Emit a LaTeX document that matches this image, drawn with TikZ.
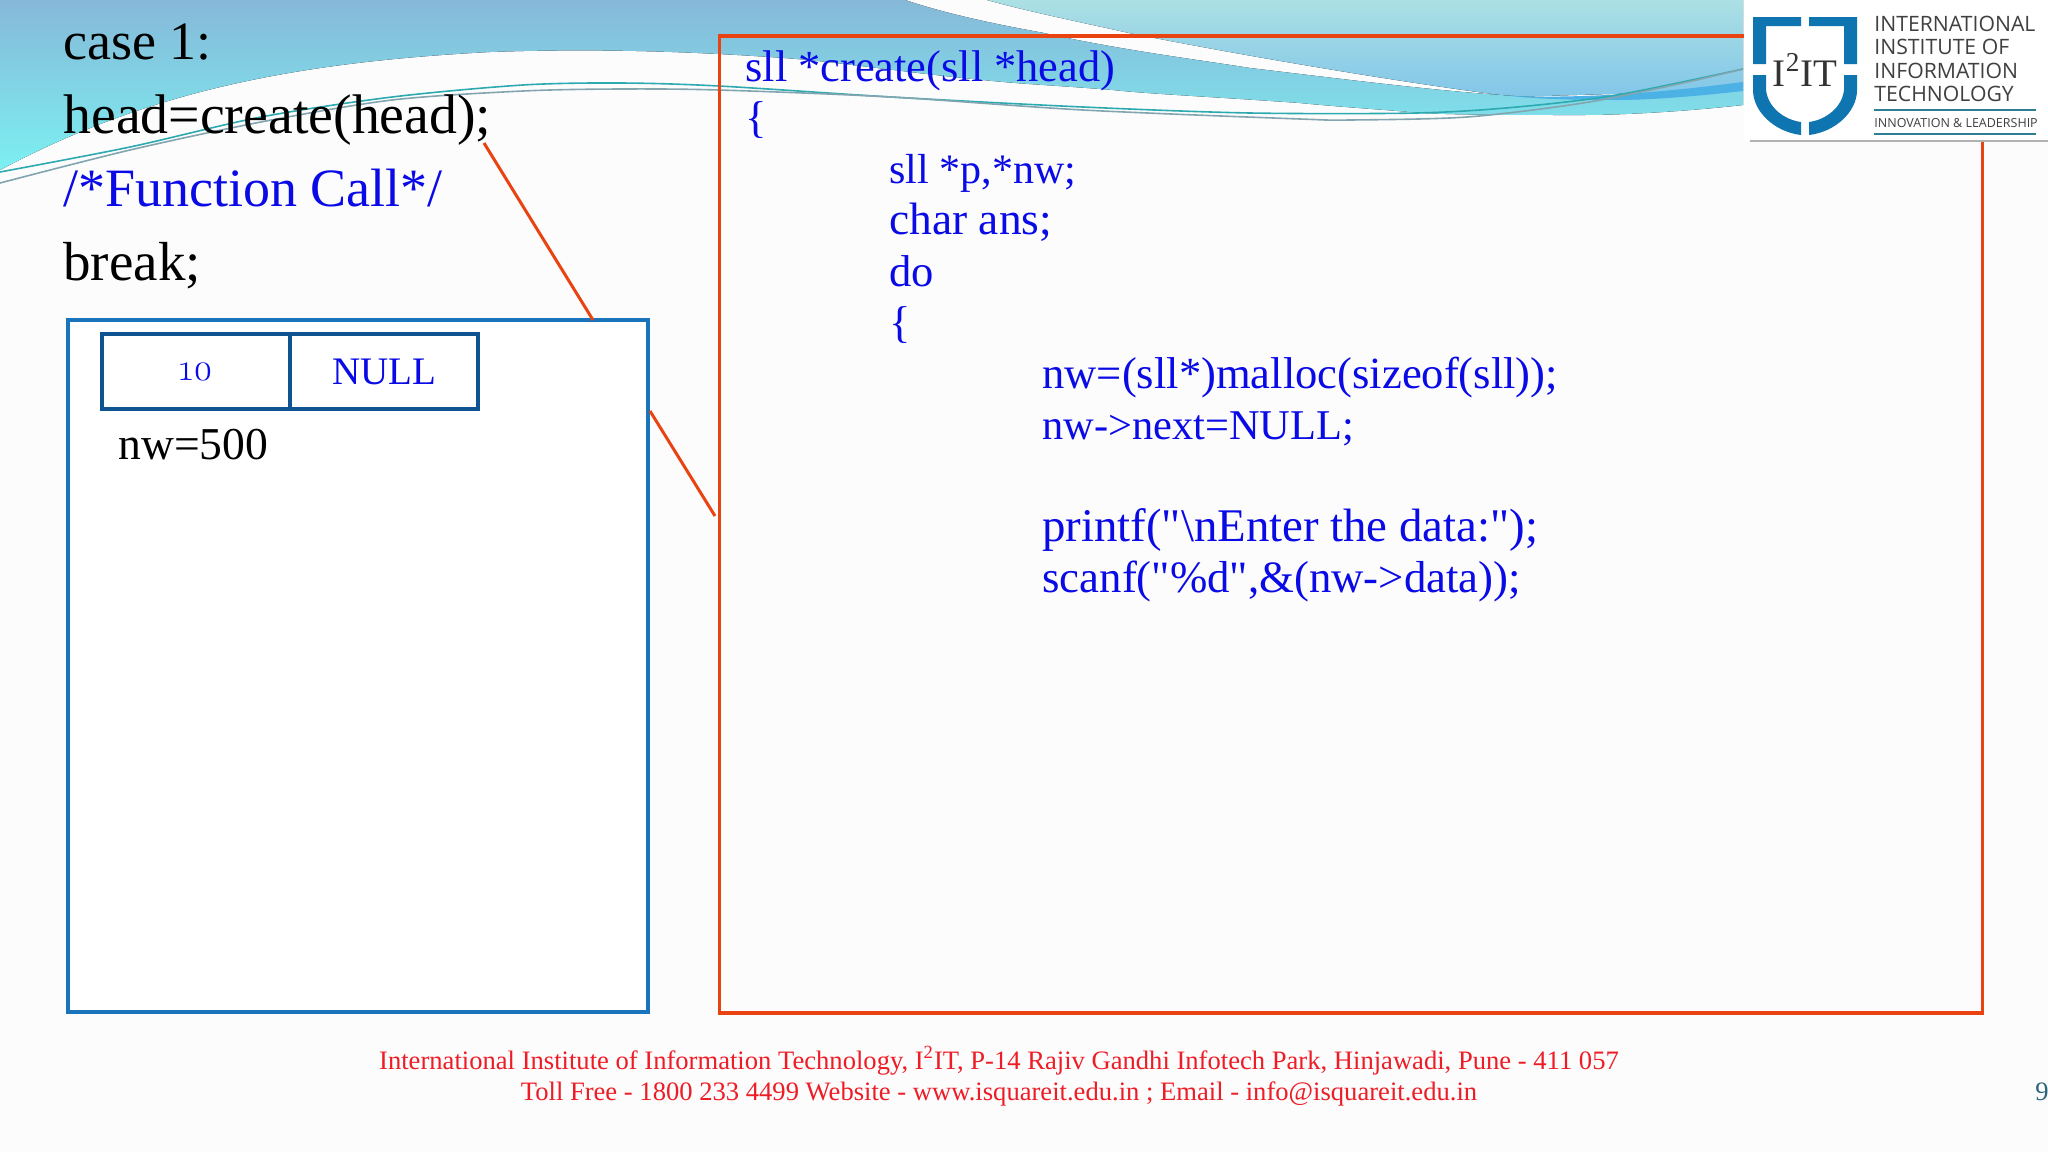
\documentclass[tikz,border=0pt]{standalone}
\usepackage{fontspec}
\setmainfont{Liberation Serif}
\newfontfamily\codefont{Liberation Serif}
\newfontfamily\logosans{Open Sans}
\newfontfamily\oldnums[Numbers=OldStyle]{Latin Modern Roman}
\usepackage{tikz}

\definecolor{pagebg}{HTML}{FCFCFD}
\definecolor{redline}{HTML}{EA4312}
\definecolor{boxblue}{HTML}{1A74BC}
\definecolor{cellblue}{HTML}{0F5490}
\definecolor{codeblue}{HTML}{0A0AE6}
\definecolor{footred}{HTML}{EE1C25}
\definecolor{shieldblue}{HTML}{0F75B0}
\definecolor{logorule}{HTML}{2F7F93}
\definecolor{pagenumcol}{HTML}{2A6478}
\definecolor{tealtop}{HTML}{ABE0E4}
\definecolor{tealbot}{HTML}{82C6E8}
\definecolor{wavetop}{HTML}{86B8D8}
\definecolor{wavebot}{HTML}{7CF0F2}
\definecolor{stripe}{HTML}{4CB2E6}
\definecolor{linea}{HTML}{2DAAAF}
\definecolor{lineb}{HTML}{82A5AF}

\tikzset{
  maintext/.style={anchor=base west, inner sep=0pt, font=\fontsize{27}{27}\selectfont},
  codetext/.style={anchor=base west, inner sep=0pt, text=codeblue, font=\codefont\fontsize{22.3}{22.3}\selectfont},
  foottext/.style={anchor=base, inner sep=0pt, text=footred, font=\fontsize{13.3}{13.3}\selectfont},
  logotext/.style={anchor=base west, inner sep=0pt, text=black!75, font=\logosans\fontsize{10.6}{10.6}\selectfont},
  cell/.style={draw=cellblue, line width=2.2pt, minimum width=94pt, minimum height=37.5pt, inner sep=0pt, text=codeblue},
  callout/.style={draw=redline, line width=1.5pt}
}

\begin{document}
\begin{tikzpicture}[x=0.5pt,y=-0.5pt]
  \useasboundingbox (0,0) rectangle (2048,1152);
  \fill[pagebg] (0,0) rectangle (2048,1152);

  % waves
  \fill[top color=tealtop, bottom color=tealbot]
    (987,0) -- (1743,0) -- (1743,90) -- (1510,97) -- (1500,95)
    .. controls (1400,82) and (1250,57) .. (1129,33)
    .. controls (1080,22) and (1030,12) .. (987,0) -- cycle;
  \fill[top color=wavetop, bottom color=wavebot]
    (0,0) -- (905,0)
    .. controls (950,15) and (1000,25) .. (1044,33)
    .. controls (1120,50) and (1200,60) .. (1250,68)
    .. controls (1350,80) and (1430,90) .. (1500,95)
    .. controls (1540,98) and (1570,98) .. (1600,98)
    -- (1743,90) -- (1743,105)
    .. controls (1680,112) and (1620,115) .. (1583,115)
    .. controls (1500,115) and (1440,115) .. (1410,112)
    .. controls (1360,108) and (1330,106) .. (1300,103)
    .. controls (1200,96) and (1150,94) .. (1113,90)
    .. controls (1050,85) and (1020,84) .. (983,80)
    .. controls (900,72) and (840,62) .. (784,58)
    .. controls (700,52) and (600,48) .. (490,52)
    .. controls (300,62) and (150,90) .. (0,170) -- cycle;
  \fill[stripe]
    (1510,96) .. controls (1600,99) and (1680,90) .. (1743,82)
    -- (1743,91) .. controls (1700,96) and (1650,100) .. (1617,100)
    .. controls (1570,100) and (1540,99) .. (1510,96) -- cycle;
  \draw[linea, line width=0.8pt] plot[smooth] coordinates {
    (0,172) (130,147) (261,117) (392,97) (523,85) (620,83) (719,86) (891,97)
    (1083,107) (1250,113) (1417,113) (1517,107) (1617,95) (1743,69)};
  \draw[lineb, line width=0.8pt] plot[smooth] coordinates {
    (0,183) (130,150) (261,122) (392,100) (523,91) (620,89) (719,90) (891,97)
    (1083,110) (1300,119) (1350,120) (1467,117) (1583,103) (1683,83) (1743,69)};

  % boxes
  \node[draw=boxblue, fill=white, line width=2pt, minimum width=290pt, minimum height=346pt, inner sep=0pt] (membox) at (358,666) {};
  \node[draw=redline, line width=1.8pt, minimum width=631.5pt, minimum height=488.5pt, inner sep=0pt] (funcbox) at (1351,524.5) {};

  \coordinate (callA) at (484,143);
  \coordinate (callB) at (593,320);
  \coordinate (callC) at (650,411);
  \coordinate (callD) at (715,516);
  \path[callout] (callA) -- (callB);
  \path[callout] (callC) -- (callD);

  % memory cells
  \node[cell] (valcell) at (196,371.5) {\raisebox{-1pt}{\oldnums\fontsize{19}{19}\selectfont 10}};
  \node[cell] (nextcell) at (384,371.5) {\raisebox{-1pt}{\fontsize{19.5}{19.5}\selectfont NULL}};
  \node[anchor=base west, inner sep=0pt, font=\fontsize{22.8}{22.8}\selectfont] (nwlabel) at (118,459) {nw=500};

  % left text
  \node[maintext] (caseline) at (63,59) {case 1:};
  \node[maintext, font=\fontsize{27.9}{27.9}\selectfont] (callline) at (63,133) {head=create(head);};
  \node[maintext, text=codeblue] (commentline) at (63,206) {/*Function Call*/};
  \node[maintext, font=\fontsize{27.5}{27.5}\selectfont] (breakline) at (63,280) {break;};

  % function text
  \node[codetext, font=\codefont\fontsize{22.2}{22.2}\selectfont] (codea) at (745,81) {sll *create(sll *head)};
  \node[codetext] (codeb) at (745,132) {\{};
  \node[codetext, font=\codefont\fontsize{21}{21}\selectfont] (codec) at (889,183) {sll *p,*nw;};
  \node[codetext, font=\codefont\fontsize{22.7}{22.7}\selectfont] (coded) at (889,234) {char ans;};
  \node[codetext] (codee) at (889,286) {do};
  \node[codetext] (codef) at (889,337) {\{};
  \node[codetext] (codeg) at (1042,388) {nw=(sll*)malloc(sizeof(sll));};
  \node[codetext, font=\codefont\fontsize{21.2}{21.2}\selectfont] (codeh) at (1042,439) {nw->next=NULL;};
  \node[codetext, font=\codefont\fontsize{23.4}{23.4}\selectfont] (codei) at (1042,541) {printf("\textbackslash nEnter the data:");};
  \node[codetext, font=\codefont\fontsize{22.4}{22.4}\selectfont] (codej) at (1042,592) {scanf("\%d",\&(nw->data));};

  % footer
  \node[foottext] (foota) at (999,1069) {International Institute of Information Technology, I\textsuperscript{2}IT, P-14 Rajiv Gandhi Infotech Park, Hinjawadi, Pune - 411 057};
  \node[foottext] (footb) at (999,1100) {Toll Free - 1800 233 4499 Website - www.isquareit.edu.in ; Email - info@isquareit.edu.in};
  \node[anchor=base west, inner sep=0pt, text=pagenumcol, font=\fontsize{13.3}{13.3}\selectfont] (pagenum) at (2035,1100) {9};

  % logo
  \fill[white] (1744,0) rectangle (2048,141);
  \draw[black!30, line width=0.8pt] (1750,141) -- (2048,141);
  \fill[shieldblue] (1753,17) -- (1801,17) -- (1801,26) -- (1766,26) -- (1766,64) -- (1753,64) -- cycle;
  \fill[shieldblue] (1857,17) -- (1809,17) -- (1809,26) -- (1844,26) -- (1844,64) -- (1857,64) -- cycle;
  \fill[shieldblue] (1753,75) -- (1766,75) -- (1766,90) .. controls (1768,108) and (1785,120) .. (1801,122) -- (1801,135) .. controls (1775,132) and (1753,112) .. (1753,90) -- cycle;
  \fill[shieldblue] (1857,75) -- (1844,75) -- (1844,90) .. controls (1842,108) and (1825,120) .. (1809,122) -- (1809,135) .. controls (1835,132) and (1857,112) .. (1857,90) -- cycle;
  \node[inner sep=0pt, text=black!80, font=\fontsize{19.5}{19.5}\selectfont] (logomark) at (1805,70) {I\textsuperscript{2}IT};
  \node[logotext] (logoa) at (1874,31) {INTERNATIONAL};
  \node[logotext] (logob) at (1874,54) {INSTITUTE OF};
  \node[logotext] (logoc) at (1874,78) {INFORMATION};
  \node[logotext] (logod) at (1874,101) {TECHNOLOGY};
  \draw[logorule, line width=1pt] (1874,110) -- (2036,110);
  \node[logotext, font=\logosans\fontsize{6.25}{6.25}\selectfont] (logoe) at (1874,127) {INNOVATION \& LEADERSHIP};
  \draw[logorule, line width=1pt] (1874,134) -- (2036,134);
\end{tikzpicture}
\end{document}
